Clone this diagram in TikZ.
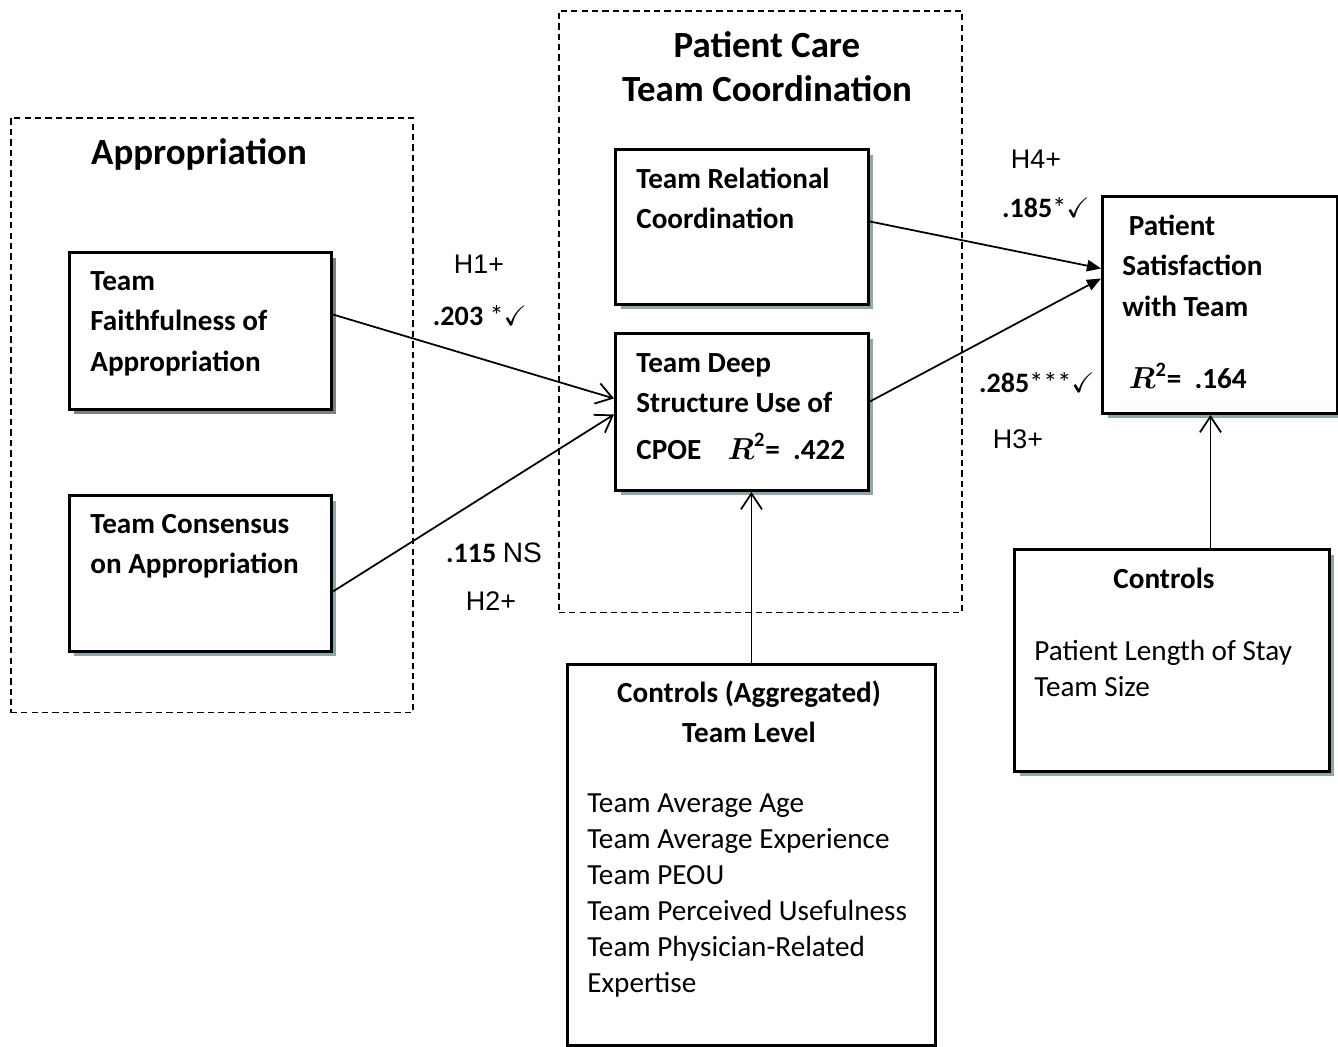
\documentclass[tikz,border=0pt]{standalone}
\usepackage{amsmath}
\usepackage{amssymb}
\usepackage{fontspec}
\setmainfont{Carlito}
\newfontfamily\arialfont{Liberation Sans}
\usetikzlibrary{arrows.meta,shadows}
\definecolor{shadowblue}{RGB}{140,168,173}
\definecolor{shadowgray}{RGB}{128,128,128}
\newcommand{\rsq}{$\boldsymbol{R}^{\mathbf{2}}$}

\begin{document}
\begin{tikzpicture}[x=0.02cm,y=-0.02cm,
	varbox/.style={draw,line width=1.7pt,fill=white,anchor=north west,inner sep=0pt,
		drop shadow={shadow xshift=0.1cm,shadow yshift=-0.1cm,fill=#1,opacity=1}},
	varbox/.default=shadowblue,
	groupbox/.style={draw,line width=0.9pt,dash pattern=on 3.6pt off 2.3pt,anchor=north west,inner sep=0pt},
	boxtext/.style={font=\fontsize{16.6}{23.3}\selectfont\bfseries,align=left,inner sep=0pt,anchor=north west},
	listtext/.style={font=\fontsize{16.6}{20.5}\selectfont,align=left,inner sep=0pt,anchor=north west},
	grouptitle/.style={font=\fontsize{21}{25}\selectfont\bfseries,align=center,inner sep=0pt},
	hlab/.style={font=\arialfont\fontsize{15.3}{18}\selectfont,anchor=base,inner sep=0pt},
	numlab/.style={font=\fontsize{16}{18}\selectfont,anchor=base,inner sep=0pt},
	openarrow/.style={line width=1pt,-{Straight Barb[length=9pt,width=12pt]}},
	filledarrow/.style={line width=1pt,-{Triangle[length=8pt,width=6.5pt]}}]
	\useasboundingbox (0,0) rectangle (1338,1046);
	\node[groupbox,minimum width=8.04cm,minimum height=11.9cm] (appr) at (10,117) {};
	\node[groupbox,minimum width=8.06cm,minimum height=12.04cm] (care) at (558,10) {};
	\node[grouptitle,anchor=base] (apprtitle) at (199,164) {\strut Appropriation};
	\node[grouptitle,anchor=north] (caretitle) at (767,26) {\strut Patient Care\\Team Coordination};

	\node[varbox=shadowgray,minimum width=5.24cm,minimum height=3.14cm] (faith) at (68,251) {};
	\node[varbox,minimum width=5.24cm,minimum height=3.12cm] (cons) at (68,494) {};
	\node[varbox,minimum width=5.06cm,minimum height=3.1cm] (rel) at (614,148) {};
	\node[varbox,minimum width=5.06cm,minimum height=3.14cm] (deep) at (614,332) {};
	\node[varbox,minimum width=4.7cm,minimum height=4.34cm] (sat) at (1101,195) {};
	\node[draw,line width=1.7pt,fill=white,anchor=north west,inner sep=0pt,minimum width=7.36cm,minimum height=7.62cm,
		drop shadow={shadow xshift=0.04cm,shadow yshift=-0.06cm,fill=shadowblue,opacity=1}] (ctrlteam) at (566,663) {};
	\node[varbox,minimum width=6.3cm,minimum height=4.44cm] (ctrlpat) at (1013,548) {};

	\node[boxtext] (faithtext) at (90,261) {\strut Team\\Faithfulness of\\Appropriation};
	\node[boxtext] (constext) at (90,504) {\strut Team Consensus\\on Appropriation};
	\node[boxtext] (reltext) at (636,159) {\strut Team Relational\\Coordination};
	\node[boxtext] (deeptext) at (636,343) {\strut Team Deep\\Structure Use of\\[3pt]CPOE\hspace{0.9em}\rsq=\ \ .422};
	\node[boxtext] (sattext) at (1122,206) {\strut\ Patient\\Satisfaction\\with Team\\[17.6pt]\ \rsq=\ \ .164};
	\node[boxtext,align=center,anchor=north] (ctrlteamhead) at (749,673) {\strut Controls (Aggregated)\\Team Level};
	\node[listtext] (ctrlteamlist) at (587,787) {\strut Team Average Age\\Team Average Experience\\Team PEOU\\Team Perceived Usefulness\\Team Physician-Related\\Expertise};
	\node[boxtext,align=center,anchor=north] (ctrlpathead) at (1164,559) {\strut Controls};
	\node[listtext] (ctrlpatlist) at (1034,635) {\strut Patient Length of Stay\\Team Size};

	\draw[openarrow] ([yshift=0.33cm]faith.east) -- ([yshift=0.27cm]deep.west);
	\draw[openarrow] ([yshift=-0.36cm]cons.east) -- ([yshift=-0.05cm]deep.west);
	\draw[filledarrow] ([yshift=0.11cm]rel.east) -- ([yshift=0.73cm]sat.west);
	\draw[filledarrow] ([yshift=0.21cm]deep.east) -- ([yshift=0.53cm]sat.west);
	\draw[openarrow] (ctrlteam.north) -- (ctrlteam.north |- deep.south);
	\coordinate (sattip) at ([xshift=-0.19cm]sat.south);
	\draw[openarrow] (ctrlpat.north -| sattip) -- (sattip);

	\foreach \n/\p/\t in {h1/{479,273}/H1+,h2/{491,610}/H2+,h3/{1018,448}/H3+,h4/{1036,168}/H4+}
		\node[hlab] (\n) at (\p) {\t};
	\node[numlab] (b1) at (480,325) {\textbf{.203} *\checkmark};
	\node[numlab] (b2) at (494,562) {\textbf{.115} {\arialfont NS}};
	\node[numlab] (b3) at (1037,392) {\textbf{.285}***\checkmark};
	\node[numlab] (b4) at (1046,217) {\textbf{.185}*\checkmark};
\end{tikzpicture}
\end{document}
